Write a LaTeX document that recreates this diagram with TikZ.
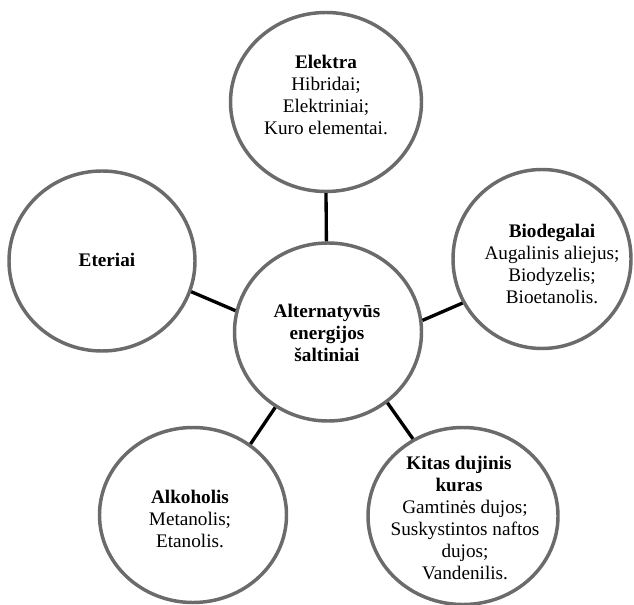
\documentclass[tikz,border=0pt]{standalone}
\usepackage{fontspec}
\setmainfont{Liberation Serif}
\usetikzlibrary{shapes.geometric}

\tikzset{
  ring/.style={ellipse, draw=black!58, line width=2.6pt, fill=white, inner sep=0pt},
  ringsize/.style 2 args={minimum width=#1*0.75pt, minimum height=#2*0.75pt},
  link/.style={draw=black, line width=2.5pt},
  txt/.style={align=center, inner sep=0pt, font=\fontsize{14.4}{16.5}\selectfont}
}

\begin{document}
\begin{tikzpicture}[x=0.75pt, y=-0.75pt]
  % page area
  \fill[white] (0,0) rectangle (634,605);
  \useasboundingbox (0,0) rectangle (634,605);

  % circles
  \node[ring, ringsize={187}{178}] (hub)  at (328,332) {};
  \node[ring, ringsize={191}{179}] (elek) at (326,102) {};
  \node[ring, ringsize={186}{180}] (eter) at (102,261) {};
  \node[ring, ringsize={178}{179}] (biod) at (542,259) {};
  \node[ring, ringsize={187}{175}] (alko) at (193,515) {};
  \node[ring, ringsize={190}{177}] (kita) at (463,516) {};

  % spokes from the hub
  \draw[link] (hub.91)    -- (elek.-90);
  \draw[link] (hub.167)   -- (eter.-19);
  \draw[link] (hub.7.8)   -- (biod.209);
  \draw[link] (hub.235.8) -- (alko.51.6);
  \draw[link] (hub.-50.6) -- (kita.123);

  % labels
  \node[txt] (hub-t) at (327,333)
    {\textbf{Alternatyvūs}\\\textbf{energijos}\\\textbf{šaltiniai}};
  \node[txt] (elek-t) at (326,95)
    {\textbf{Elektra}\\Hibridai;\\Elektriniai;\\Kuro elementai.};
  \node[txt] (eter-t) at (107,260) {\textbf{Eteriai}};
  \node[txt] (biod-t) at (552,264)
    {\textbf{Biodegalai}\\Augalinis aliejus;\\Biodyzelis;\\Bioetanolis.};
  \node[txt] (alko-t) at (190,519)
    {\textbf{Alkoholis}\\Metanolis;\\Etanolis.};
  \node[txt] (kita-t) at (465,518)
    {\textbf{Kitas dujinis}\kern9pt\\\textbf{kuras}\kern9pt\\Gamtinės dujos;\\Suskystintos naftos\\dujos;\\Vandenilis.};
\end{tikzpicture}
\end{document}
